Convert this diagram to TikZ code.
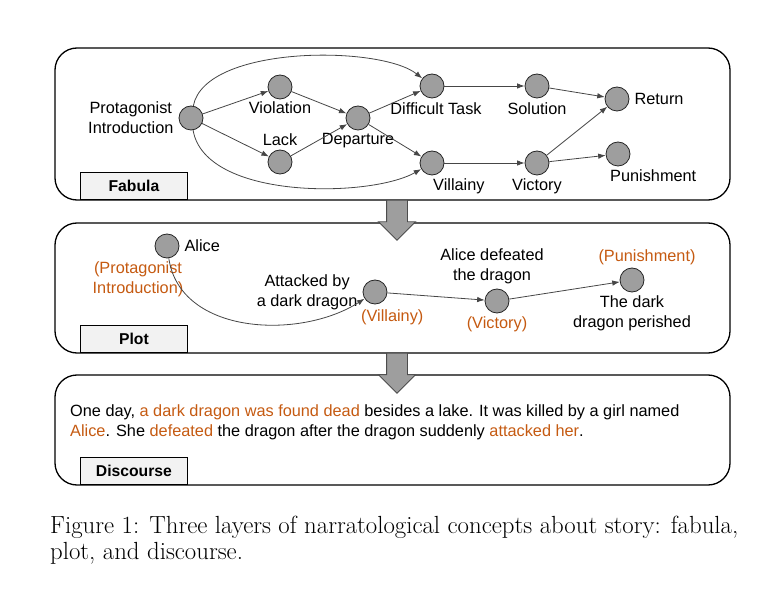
\documentclass[tikz,border=0pt]{standalone}
\usepackage{fontspec}
\newfontfamily\arialfont{Liberation Sans}
\usetikzlibrary{arrows.meta,positioning,shapes.arrows}
\definecolor{roleorange}{RGB}{197,90,17}
\definecolor{evgray}{RGB}{158,158,158}
\definecolor{linegray}{RGB}{70,70,70}
\definecolor{tagfill}{RGB}{242,242,242}
\tikzset{
    panel/.style={draw, line width=1.3pt, rounded corners=22pt, minimum width=675pt},
    tagbox/.style={draw, fill=tagfill, line width=0.9pt, minimum width=107pt, minimum height=27pt, anchor=south west, font=\arialfont\bfseries\fontsize{15.7}{18}\selectfont},
    ev/.style={circle, draw=black!85, fill=evgray, line width=0.8pt, minimum size=24pt, inner sep=0pt},
    lbl/.style={font=\arialfont\fontsize{16.3}{20}\selectfont, align=center, inner sep=1pt},
    role/.style={lbl, text=roleorange},
    link/.style={draw=linegray, line width=0.8pt, -{Latex[length=7.5pt,width=5.5pt]}},
    downarrow/.style={single arrow, draw=black!70, fill=evgray, line width=0.9pt, rotate=-90, minimum height=40pt, inner xsep=0pt, inner ysep=10pt, single arrow head extend=8pt}
}
\begin{document}
\begin{tikzpicture}[x=1pt, y=-1pt]
        \useasboundingbox (0,0) rectangle (766,596);

        \node[panel, minimum height=152pt] (fabula) at (392.5,124) {};
        \node[panel, minimum height=130pt] (plot) at (392.5,288) {};
        \node[panel, minimum height=110pt] (discourse) at (392.5,430) {};

        \node[tagbox] (fabtag) at (80,200) {Fabula};
        \node[tagbox] (plottag) at (80,353) {Plot};
        \node[tagbox] (disctag) at (80,485) {Discourse};

        \node[downarrow] (down1) at (397,215) {};
        \node[downarrow] (down2) at (397,368) {};

        \node[ev] (pi) at (191,118) {};
        \node[ev] (viol) at (280,87) {};
        \node[ev] (lack) at (280,162) {};
        \node[ev] (dep) at (358,118) {};
        \node[ev] (task) at (432,86) {};
        \node[ev] (vill) at (432,163) {};
        \node[ev] (sol) at (537,86) {};
        \node[ev] (vict) at (537,163) {};
        \node[ev] (ret) at (617,99) {};
        \node[ev] (pun) at (618,154) {};

        \node[lbl, left=4pt of pi] {Protagonist\\Introduction};
        \node[lbl, below=1pt of viol] {Violation};
        \node[lbl, above=3pt of lack] {Lack};
        \node[lbl, below=2pt of dep] {Departure};
        \node[lbl, below=3pt of task, xshift=4pt] {Difficult Task};
        \node[lbl, anchor=north west] at ([yshift=-2pt]vill.south) {Villainy};
        \node[lbl, below=3pt of sol] {Solution};
        \node[lbl, below=2pt of vict] {Victory};
        \node[lbl, right=4pt of ret] {Return};
        \node[lbl, anchor=north west] at ([xshift=-9pt,yshift=-2pt]pun.south) {Punishment};

        \draw[link] (pi) -- (viol);
        \draw[link] (pi) -- (lack);
        \draw[link] (viol) -- (dep);
        \draw[link] (lack) -- (dep);
        \draw[link] (dep) -- (task);
        \draw[link] (dep) -- (vill);
        \draw[link] (pi) .. controls (205,45) and (380,45) .. (task);
        \draw[link] (pi) .. controls (205,200) and (370,198) .. (vill);
        \draw[link] (task) -- (sol);
        \draw[link] (sol) -- (ret);
        \draw[link] (vill) -- (vict);
        \draw[link] (vict) -- (ret);
        \draw[link] (vict) -- (pun);

        \node[ev] (alice) at (167,246) {};
        \node[ev] (attack) at (375,292) {};
        \node[ev] (defeat) at (497,301) {};
        \node[ev] (perish) at (632,280) {};

        \node[lbl, right=4pt of alice] {Alice};
        \node[role, anchor=north] at ([xshift=-29pt,yshift=-2pt]alice.south) {(Protagonist\\Introduction)};
        \node[lbl, left=4pt of attack] {Attacked by\\a dark dragon};
        \node[role, anchor=north west] at ([xshift=-15pt,yshift=-4pt]attack.south) {(Villainy)};
        \node[lbl, above=4pt of defeat, xshift=-5pt] {Alice defeated\\the dragon};
        \node[role, below=2pt of defeat] {(Victory)};
        \node[role, above=2pt of perish, xshift=15pt] {(Punishment)};
        \node[lbl, below=2pt of perish] {The dark\\dragon perished};

        \draw[link] (alice) .. controls (180,335) and (300,340) .. (attack);
        \draw[link] (attack) -- (defeat);
        \draw[link] (defeat) -- (perish);

        \node[lbl, align=left, anchor=west, inner sep=0pt] (story) at (70,422) {One day, \textcolor{roleorange}{a dark dragon was found dead} besides a lake. It was killed by a girl named\\
            \textcolor{roleorange}{Alice}. She \textcolor{roleorange}{defeated} the dragon after the dragon suddenly \textcolor{roleorange}{attacked her}.};

        \node[align=left, anchor=north west, inner sep=0pt, font=\fontsize{24.8}{26}\selectfont] (caption) at (50,516) {Figure 1: Three layers of narratological concepts about story: fabula,\\plot, and discourse.};
\end{tikzpicture}
\end{document}
